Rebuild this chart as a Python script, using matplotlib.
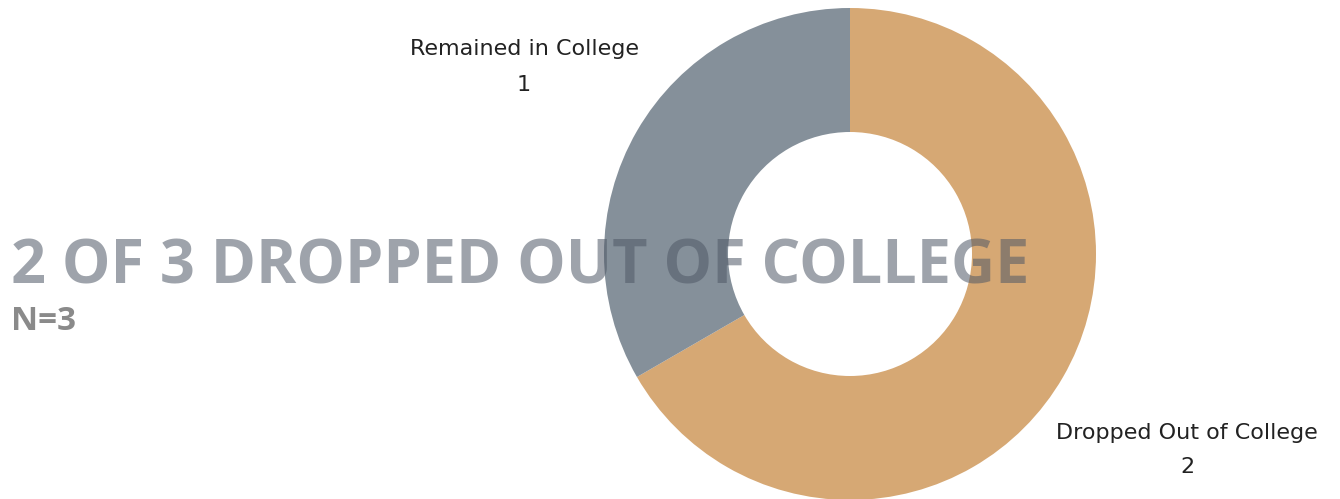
import matplotlib
matplotlib.use('Agg')
import matplotlib.pyplot as plt

# chart values
categories = ['Dropped Out of College', 'Remained in College']
counts = [2, 1]
colors = ['#D6A874', '#85909A']
title = '2 OF 3 DROPPED OUT OF COLLEGE'
subtitle = 'N=3'

W, H = 1340, 499
fig = plt.figure(figsize=(W / 100, H / 100), dpi=100)
ax = fig.add_axes([0, 0, 1, 1])

# donut, clockwise from 12 o'clock
ax.pie(counts, colors=colors, startangle=90, counterclock=False,
       center=(850, H - 254), radius=246, frame=True,
       wedgeprops=dict(width=124, linewidth=0))
ax.set_xlim(0, W)
ax.set_ylim(0, H)
ax.set_aspect('equal')
ax.axis('off')

label_font = 'DejaVu Sans'
lab = dict(ha='center', va='center', fontsize=16, family=label_font,
           color='#222222')
ax.text(524, H - 49, categories[1], **lab)
ax.text(524, H - 85, str(counts[1]), **lab)
ax.text(1187, H - 433, categories[0], **lab)
ax.text(1187, H - 467, str(counts[0]), **lab)

ax.text(11, H - 284, title, ha='left', va='baseline', fontsize=44,
        fontweight='bold', family='Open Sans', color='#4F5866', alpha=0.55)
ax.text(11, H - 330, subtitle, ha='left', va='baseline', fontsize=24,
        fontweight='bold', family='Open Sans', color='#8A8A8A')

fig.savefig('out.png', dpi=100)
